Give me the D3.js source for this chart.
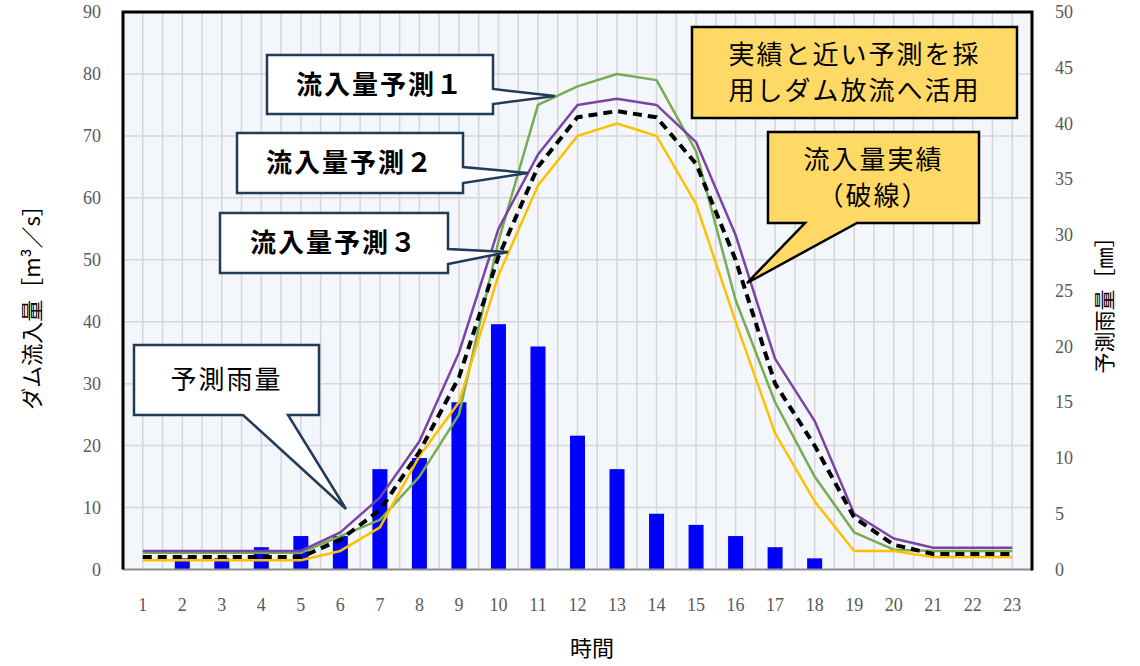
<!DOCTYPE html>
<html>
<head>
<meta charset="utf-8">
<script src="https://cdn.jsdelivr.net/npm/d3@7"></script>
<style>
  body { margin: 0; background: #fff; }
  svg { display: block; }
  .tick-num { font-family: "Liberation Serif", "DejaVu Serif", serif; fill: #595959; font-size: 18px; }
  .jp { font-family: "Noto Sans CJK JP", sans-serif; }
</style>
</head>
<body>
<div id="chart"></div>
<script>
const WIDTH = 1140;
const HEIGHT = 666;

// 時間 (x categories)
const hours = d3.range(1, 24);
// 流入量 [m3/s]
const forecast1 = [2.7, 2.7, 2.7, 2.7, 2.7, 5.4, 8, 15, 25, 53, 75, 78, 80, 79, 67.5, 43.5, 27, 15, 6, 3.2, 3, 3, 3];   // green
const forecast2 = [3, 3, 3, 3, 3, 6, 11.6, 20.7, 35, 55, 67, 75, 76, 75, 69, 54, 34, 24, 9, 5, 3.5, 3.5, 3.5];         // purple
const forecast3 = [1.5, 1.5, 1.5, 1.5, 1.5, 3, 6.8, 18.3, 27, 47.5, 62, 70, 72, 70, 59, 40, 22, 11, 3, 3, 2, 2, 2];    // yellow
const actual    = [2, 2, 2, 2, 2, 4.8, 9.6, 19, 31, 50.5, 65, 73, 74, 73, 65.5, 50, 30, 20, 8.4, 4, 2.5, 2.5, 2.5];    // dashed
// 予測雨量 [mm]
const rain = [0, 1, 1, 2, 3, 3, 9, 10, 15, 22, 20, 12, 9, 5, 4, 3, 2, 1, 0, 0, 0, 0, 0];

const leftTicks = d3.range(0, 91, 10);
const rightTicks = d3.range(0, 51, 5);

const margin = {left: 123, right: 1032, top: 12, bottom: 569.5};

const svg = d3.select("#chart").append("svg")
    .attr("width", WIDTH)
    .attr("height", HEIGHT);

const x = d3.scaleBand().domain(hours).range([margin.left, margin.right]);
const bw = x.bandwidth();
const yL = d3.scaleLinear().domain([0, 90]).range([margin.bottom, margin.top]);
const yR = d3.scaleLinear().domain([0, 50]).range([margin.bottom, margin.top]);

// plot background
svg.append("rect")
    .attr("x", margin.left).attr("y", margin.top)
    .attr("width", margin.right - margin.left)
    .attr("height", margin.bottom - margin.top)
    .attr("fill", "#F3F6FB");

// grid
const grid = svg.append("g").attr("stroke", "#D6D6D6").attr("stroke-width", 1.5);
const vx = [];
hours.forEach(h => { vx.push(x(h)); vx.push(x(h) + bw / 2); });
grid.selectAll("line.v").data(vx.slice(1)).enter().append("line")
    .attr("x1", d => d).attr("x2", d => d)
    .attr("y1", margin.top).attr("y2", margin.bottom);
grid.selectAll("line.h").data(leftTicks.slice(1)).enter().append("line")
    .attr("x1", margin.left).attr("x2", margin.right)
    .attr("y1", d => yL(d)).attr("y2", d => yL(d));

// rain bars
const barW = bw * 0.38;
svg.append("g").selectAll("rect").data(rain).enter().append("rect")
    .attr("x", (d, i) => x(hours[i]) + bw / 2 - barW / 2)
    .attr("y", d => yR(d))
    .attr("width", barW)
    .attr("height", d => yR(0) - yR(d))
    .attr("fill", "#0000FF");

// lines
const line = d3.line()
    .x((d, i) => x(hours[i]) + bw / 2)
    .y(d => yL(d));

const series = [
    {values: forecast1, color: "#77AC52", width: 2.5},
    {values: forecast3, color: "#FFC000", width: 2.5},
    {values: forecast2, color: "#7A44A6", width: 2.5},
    {values: actual, color: "#000000", width: 4, dash: "9,6"}
];
svg.append("g").selectAll("path").data(series).enter().append("path")
    .attr("d", d => line(d.values))
    .attr("fill", "none")
    .attr("stroke", d => d.color)
    .attr("stroke-width", d => d.width)
    .attr("stroke-dasharray", d => d.dash || null)
    .attr("stroke-linejoin", "round");

// frame
svg.append("line").attr("x1", margin.left).attr("x2", margin.right)
    .attr("y1", margin.bottom).attr("y2", margin.bottom)
    .attr("stroke", "#8C8C8C").attr("stroke-width", 2);
svg.append("path")
    .attr("d", `M${margin.left},${margin.bottom} V${margin.top} H${margin.right} V${margin.bottom + 1}`)
    .attr("fill", "none").attr("stroke", "#000").attr("stroke-width", 3);

// tick labels
svg.append("g").selectAll("text").data(leftTicks).enter().append("text")
    .attr("class", "tick-num")
    .attr("x", 101).attr("y", d => yL(d) + 6)
    .attr("text-anchor", "end")
    .text(d => d);
svg.append("g").selectAll("text").data(rightTicks).enter().append("text")
    .attr("class", "tick-num")
    .attr("x", 1055).attr("y", d => yR(d) + 6)
    .text(d => d);
svg.append("g").selectAll("text").data(hours).enter().append("text")
    .attr("class", "tick-num")
    .attr("x", d => x(d) + bw / 2).attr("y", 611)
    .attr("text-anchor", "middle")
    .text(d => d);

// axis titles
svg.append("text").attr("class", "jp")
    .attr("x", 592).attr("y", 656)
    .attr("text-anchor", "middle").attr("font-size", 22)
    .text("時間");
svg.append("text").attr("class", "jp")
    .attr("transform", "translate(40,302) rotate(-90)")
    .attr("text-anchor", "middle").attr("font-size", 22)
    .text("ダム流入量［m³／s］");
svg.append("text").attr("class", "jp")
    .attr("transform", "translate(1112,300) rotate(-90)")
    .attr("text-anchor", "middle").attr("font-size", 21)
    .text("予測雨量［㎜］");

// callouts
function calloutPath(c) {
    const r = c.x + c.w, b = c.y + c.h;
    if (c.side === "right") {
        return `M${c.x},${c.y} H${r} V${c.b1} L${c.tx},${c.ty} L${r},${c.b2} V${b} H${c.x} Z`;
    }
    return `M${c.x},${c.y} H${r} V${b} H${c.b2} L${c.tx},${c.ty} L${c.b1},${b} H${c.x} Z`;
}

const callouts = [
    {x: 267, y: 55, w: 226, h: 59, side: "right", b1: 89, b2: 104, tx: 555, ty: 96,
     fill: "#fff", stroke: "#213B58", lines: ["流入量予測１"], bold: true},
    {x: 237, y: 133, w: 226, h: 60, side: "right", b1: 167, b2: 183, tx: 528, ty: 173,
     fill: "#fff", stroke: "#213B58", lines: ["流入量予測２"], bold: true},
    {x: 220, y: 213, w: 228, h: 60, side: "right", b1: 249, b2: 264, tx: 508, ty: 252,
     fill: "#fff", stroke: "#213B58", lines: ["流入量予測３"], bold: true},
    {x: 134, y: 345, w: 185, h: 70, side: "bottom", b1: 243, b2: 288, tx: 346, ty: 509,
     fill: "#fff", stroke: "#213B58", lines: ["予測雨量"], bold: false},
    {x: 768, y: 132, w: 211, h: 91, side: "bottom", b1: 805, b2: 857, tx: 747, ty: 283,
     fill: "#FFD966", stroke: "#000", lines: ["流入量実績", "（破線）"], bold: false},
    {x: 692, y: 27, w: 325, h: 91, side: "none",
     fill: "#FFD966", stroke: "#000", lines: ["実績と近い予測を採", "用しダム放流へ活用"], bold: false}
];

const cg = svg.append("g").selectAll("g").data(callouts).enter().append("g");
cg.append("path")
    .attr("d", d => d.side === "none"
        ? `M${d.x},${d.y} H${d.x + d.w} V${d.y + d.h} H${d.x} Z`
        : calloutPath(d))
    .attr("fill", d => d.fill)
    .attr("stroke", d => d.stroke)
    .attr("stroke-width", 2.5)
    .attr("stroke-linejoin", "miter");
cg.each(function (d) {
    const g = d3.select(this);
    const n = d.lines.length;
    d.lines.forEach((t, i) => {
        g.append("text").attr("class", "jp")
            .attr("x", d.x + d.w / 2)
            .attr("y", d.y + d.h / 2 + (i - (n - 1) / 2) * 36 + 9)
            .attr("text-anchor", "middle")
            .attr("font-size", 26)
            .attr("letter-spacing", 2)
            .attr("font-weight", d.bold ? 700 : 400)
            .attr("fill", "#000")
            .text(t);
    });
});
</script>
</body>
</html>
